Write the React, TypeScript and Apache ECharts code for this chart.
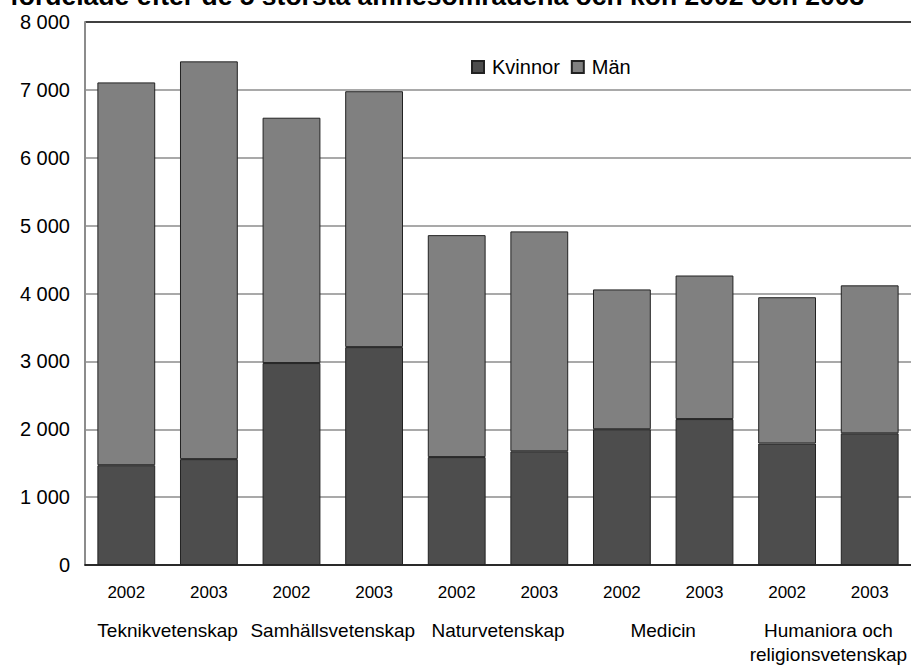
import React, { useEffect, useRef } from "react";
import * as echarts from "echarts";

const years = ["2002", "2003", "2002", "2003", "2002", "2003", "2002", "2003", "2002", "2003"];
const groups = ["Teknikvetenskap", "Samhällsvetenskap", "Naturvetenskap", "Medicin", "Humaniora och\nreligionsvetenskap"];
const kvinnor = [1470, 1560, 2975, 3210, 1590, 1675, 2000, 2150, 1790, 1940];
const totals = [7110, 7420, 6590, 6980, 4860, 4915, 4060, 4265, 3945, 4120];
const man = totals.map((t, i) => t - kvinnor[i]);
const yTicks = [0, 1000, 2000, 3000, 4000, 5000, 6000, 7000, 8000];
const titleText = "fördelade efter de 5 största ämnesområdena och kön 2002 och 2003";

const FONT = '"Liberation Sans", Arial, sans-serif';

export default function App() {
  const ref = useRef<HTMLDivElement>(null);
  useEffect(() => {
    if (!ref.current) return;
    const chart = echarts.init(ref.current, undefined, { renderer: "svg" });
    const gridColors = yTicks.map((v) => (v === 8000 ? "#000000" : "#8c8c8c"));
    chart.setOption({
      animation: false,
      backgroundColor: "#ffffff",
      textStyle: { fontFamily: FONT },
      graphic: [
        {
          type: "text",
          style: {
            x: 10,
            y: 9,
            text: titleText,
            fill: "#000",
            font: 'bold 26.5px "Liberation Sans", Arial, sans-serif',
            verticalAlign: "bottom",
          },
        },
      ],
      legend: {
        left: 466,
        top: 52,
        icon: "rect",
        itemWidth: 12,
        itemHeight: 12,
        itemGap: 11,
        textStyle: { fontSize: 20, color: "#000", fontFamily: FONT, padding: [0, 0, 0, 3] },
        data: ["Kvinnor", "Män"],
      },
      grid: { left: 85, top: 22, width: 828, height: 544, containLabel: false },
      xAxis: [
        {
          type: "category",
          data: years,
          axisLine: { show: true, lineStyle: { color: "#000", width: 1.5 } },
          axisTick: { show: false },
          axisLabel: { fontSize: 17, color: "#000", margin: 19, fontFamily: FONT, interval: 0 },
        },
        {
          type: "category",
          data: groups,
          position: "bottom",
          axisLine: { show: false },
          axisTick: { show: false },
          axisLabel: { fontSize: 19, color: "#000", margin: 53, lineHeight: 24, fontFamily: FONT, verticalAlign: "top", interval: 0 },
        },
      ],
      yAxis: {
        type: "value",
        min: 0,
        max: 8000,
        interval: 1000,
        axisLine: { show: true, lineStyle: { color: "#8c8c8c", width: 2 } },
        axisTick: { show: false },
        axisLabel: {
          fontSize: 20,
          color: "#000",
          margin: 15,
          fontFamily: FONT,
          formatter: (v: number) => (v >= 1000 ? `${Math.floor(v / 1000)} ${String(v % 1000).padStart(3, "0")}` : String(v)),
        },
        splitLine: { show: true, lineStyle: { color: gridColors, width: 1.5 } },
      },
      series: [
        {
          name: "Kvinnor",
          type: "bar",
          stack: "total",
          xAxisIndex: 0,
          data: kvinnor,
          barWidth: "70%",
          itemStyle: { color: "#4d4d4d", borderColor: "#222", borderWidth: 1 },
        },
        {
          name: "Män",
          type: "bar",
          stack: "total",
          xAxisIndex: 0,
          data: man,
          barWidth: "70%",
          itemStyle: { color: "#808080", borderColor: "#222", borderWidth: 1 },
        },
      ],
    });
    return () => chart.dispose();
  }, []);
  return <div ref={ref} style={{ position: "fixed", left: 0, top: 0, width: 911, height: 666 }} />;
}
